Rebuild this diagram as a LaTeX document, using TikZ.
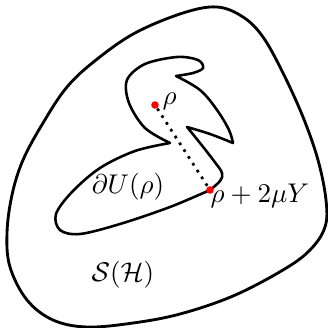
\documentclass[tikz,border=0pt]{standalone}
\usepackage{amsmath,amssymb}
\begin{document}
\begin{tikzpicture}[x=0.013cm,y=-0.013cm,
  curve/.style={line width=0.95pt,line join=round},
  reddot/.style={circle,fill=red,inner sep=0pt,minimum size=2.8pt},
  lbl/.style={inner sep=0pt}]
\useasboundingbox (0,0) rectangle (328,328);
% outer set
\draw[curve,line width=1.05pt] plot[smooth cycle,tension=0.6] coordinates {
 (217,7) (243,17) (263,37) (283,73) (303,117) (318,160) (326,200) (325,227) (310,250)
 (283,270) (233,296) (180,314) (133,323) (87,327) (53,320) (27,300) (10,267) (7,233)
 (12,195) (23,160) (43,123) (67,87) (96,60) (135,33) (183,13)};
% inner boundary
\draw[curve] plot[smooth,tension=0.55] coordinates {
 (210,190) (170,207) (120,224) (80,234) (60,230) (56,214) (72,192) (100,168) (135,151) (170,143)}
 -- plot[smooth,tension=0.55] coordinates {
 (170,143) (145,128) (129,103) (127,80) (145,64) (177,57) (198,60) (203,68) (193,73) (176,76)}
 -- plot[smooth,tension=0.6] coordinates {
 (176,76) (200,90) (217,110) (229,130) (233,143)}
 -- plot[smooth,tension=0.6] coordinates {
 (233,143) (210,134) (187,127)}
 -- plot[smooth,tension=0.6] coordinates {
 (187,127) (200,143) (214,161) (222,173) (220,181) (210,190)};
\node[reddot] (r) at (155,105) {};
\node[reddot] (r2) at (210,190) {};
\draw[line width=1pt,dotted] (r) -- (r2);
\node[lbl,anchor=west] (lr) at (162,101) {$\rho$};
\node[lbl,anchor=west] (lr2) at (210,196) {$\rho+2\mu Y$};
\node[lbl] (lu) at (128,187) {$\partial U(\rho)$};
\node[lbl] (ls) at (123,275) {$\mathcal{S}(\mathcal{H})$};
\end{tikzpicture}
\end{document}
